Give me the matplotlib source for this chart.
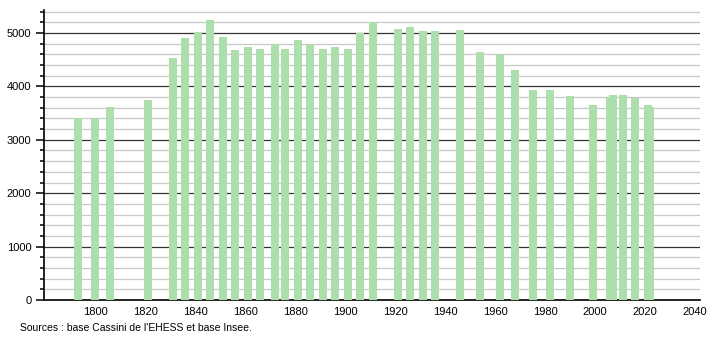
import matplotlib.pyplot as plt
from matplotlib.ticker import MultipleLocator

# census years and population
years = [1793, 1800, 1806, 1821, 1831, 1836, 1841, 1846, 1851, 1856,
         1861, 1866, 1872, 1876, 1881, 1886, 1891, 1896, 1901, 1906,
         1911, 1921, 1926, 1931, 1936, 1946, 1954, 1962, 1968, 1975,
         1982, 1990, 1999, 2006, 2007, 2011, 2016, 2021, 2022]
population = [3400, 3400, 3610, 3750, 4530, 4900, 5020, 5240, 4930, 4680,
              4740, 4700, 4800, 4700, 4870, 4780, 4700, 4740, 4700, 4990,
              5210, 5080, 5110, 5040, 5040, 5060, 4650, 4580, 4300, 3940,
              3940, 3820, 3660, 3810, 3830, 3845, 3790, 3660, 3620]
x_ticks = list(range(1800, 2041, 20))
y_ticks = [0, 1000, 2000, 3000, 4000, 5000]
source = "Sources : base Cassini de l'EHESS et base Insee."

plt.rcParams['font.family'] = ['Liberation Sans', 'DejaVu Sans']

fig = plt.figure(figsize=(7.1, 3.4), dpi=100)
ax = fig.add_axes([44 / 710, 40 / 340, 656 / 710, 290 / 340])

# grid: light lines every 200, dark ones every 1000
ax.yaxis.set_minor_locator(MultipleLocator(200))
ax.grid(axis='y', which='minor', color='#c8c8c8', linewidth=0.9)
ax.grid(axis='y', which='major', color='#333333', linewidth=0.9)
ax.set_axisbelow(True)

ax.bar(years, population, width=3.2, color='#addfad', zorder=3)

ax.set_xlim(1779.5, 2042)
ax.set_ylim(0, 5430)
ax.set_xticks(x_ticks)
ax.set_yticks(y_ticks)

for side in ['top', 'right']:
    ax.spines[side].set_visible(False)
ax.spines['left'].set_linewidth(1.2)
ax.spines['bottom'].set_linewidth(1.2)

ax.tick_params(axis='x', length=0, labelsize=8, pad=5)
ax.tick_params(axis='y', which='major', length=6, width=1.1, labelsize=8, pad=3)
ax.tick_params(axis='y', which='minor', length=3, width=1.1)

fig.text(20 / 710, 1 - 328 / 340, source, fontsize=7.5, va='center', ha='left')

fig.savefig('out.png', dpi=100)
